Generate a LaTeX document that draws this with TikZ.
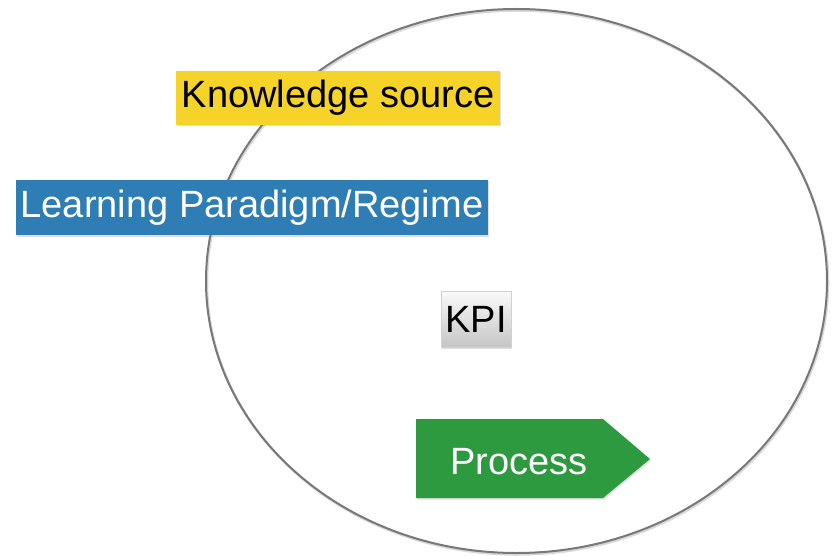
\documentclass[tikz,border=0pt]{standalone}
\usepackage{fontspec}
\setmainfont{Liberation Sans}
\usetikzlibrary{shadows}
\definecolor{ksyellow}{RGB}{245,211,41}
\definecolor{lpblue}{RGB}{46,125,180}
\definecolor{prgreen}{RGB}{46,154,64}
\definecolor{ringgray}{RGB}{120,120,120}
\newcommand{\lowertext}[1]{\raisebox{-3pt}{#1}}
\tikzset{
  boxbase/.style={inner sep=0pt, font=\fontsize{38}{42}\selectfont,
    drop shadow={opacity=0.25, shadow xshift=1pt, shadow yshift=-1.5pt}},
  ksbox/.style={boxbase, fill=ksyellow, text=black, minimum width=324pt, minimum height=54pt},
  lpbox/.style={boxbase, fill=lpblue, text=white, minimum width=472pt, minimum height=55pt},
  kpibox/.style={boxbase, top color=white!96!gray, bottom color=gray!45, draw=gray!35, line width=0.4pt,
    text=black, minimum width=70pt, minimum height=56pt},
  ring/.style={draw=ringgray, line width=2pt},
  ringshadow/.style={draw=black!15, line width=2.5pt},
  arrowshape/.style={fill=prgreen, drop shadow={opacity=0.25, shadow xshift=1pt, shadow yshift=-1.5pt}},
  prlabel/.style={inner sep=0pt, text=white, font=\fontsize{38}{42}\selectfont}
}
\begin{document}
\begin{tikzpicture}[x=1pt, y=-1pt]
\useasboundingbox (0,0) rectangle (832,556);
% circle (ellipse)
\draw[ringshadow] (517.5,282.5) ellipse [x radius=310.5, y radius=272];
\draw[ring] (516.5,281) ellipse [x radius=310.5, y radius=272];
% boxes
\node[ksbox] (ks) at (338,98) {\lowertext{Knowledge source}};
\node[lpbox] (lp) at (252,207.5) {\lowertext{Learning Paradigm/Regime}};
\node[kpibox] (kpi) at (476,319) {\lowertext{KPI}};
% process arrow
\path[arrowshape] (416,419) -- (603,419) -- (650,459) -- (603,498) -- (416,498) -- cycle;
\node[prlabel] (pr) at (519,462) {\lowertext{Process}};
\end{tikzpicture}
\end{document}
